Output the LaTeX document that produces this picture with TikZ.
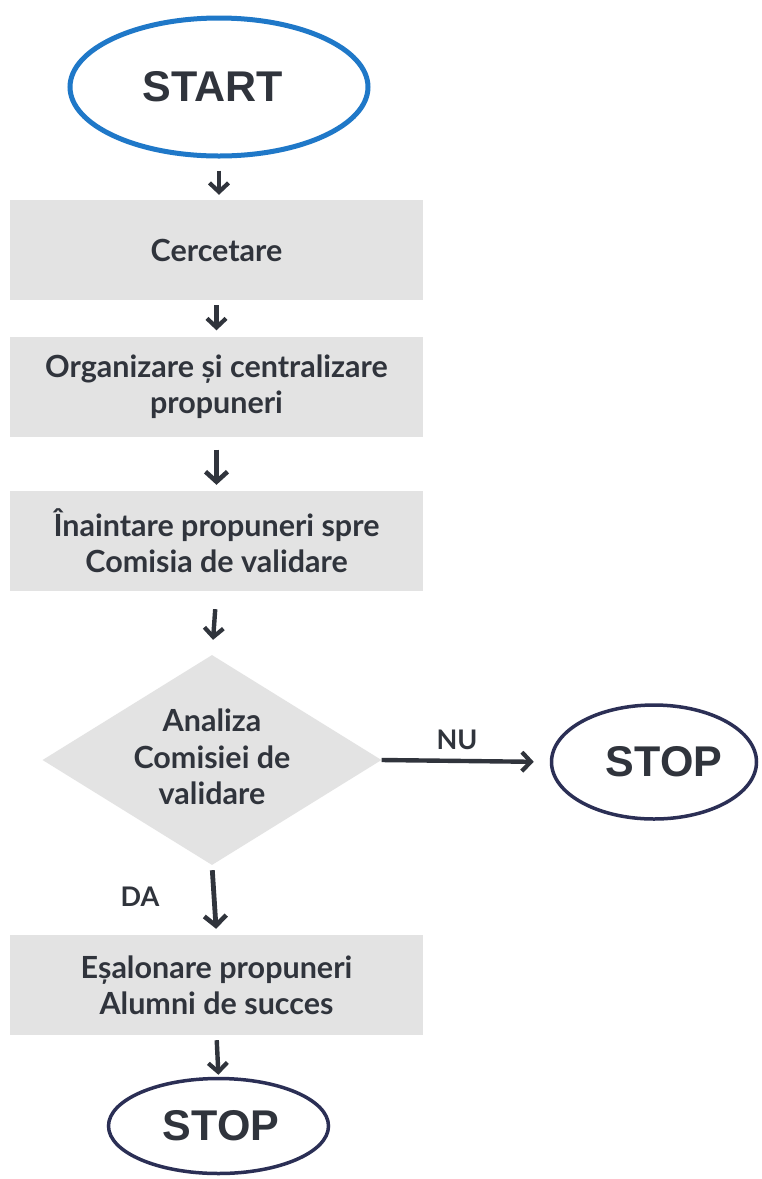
\documentclass[tikz,border=0pt]{standalone}
\usepackage{fontspec}
\setmainfont{Lato}
\newfontfamily\termfont{Liberation Sans}
\usetikzlibrary{shapes.geometric,arrows.meta}
\definecolor{startblue}{HTML}{1F78C8}
\definecolor{stopnavy}{HTML}{2B2F55}
\definecolor{boxgray}{HTML}{E3E3E3}
\definecolor{txtgray}{HTML}{30343C}
\begin{document}
\begin{tikzpicture}[x=1pt,y=-1pt,
  term/.style={ellipse, inner sep=0pt, font=\termfont\bfseries\fontsize{43}{50}\selectfont, text=txtgray},
  stepbox/.style={rectangle, fill=boxgray, minimum width=413pt, minimum height=100pt, inner sep=0pt, align=center, text=txtgray, font=\bfseries\fontsize{30.5}{36}\selectfont},
  boxtext/.style={align=center, text=txtgray, font=\bfseries\fontsize{30.5}{36.5}\selectfont, inner sep=0pt},
  lbl/.style={text=txtgray, font=\bfseries\fontsize{27}{30}\selectfont, inner sep=0pt},
  flow/.style={draw=txtgray, line width=4.4pt, -{Straight Barb[length=9pt,width=19pt,line width=4.2pt]}},
  bigflow/.style={draw=txtgray, line width=4.8pt, -{Straight Barb[length=10pt,width=22pt,line width=4.6pt]}}
]
\useasboundingbox[fill=white] (0,0) rectangle (761,1179);

\node[term, draw=startblue, line width=5pt, minimum width=298pt, minimum height=138pt] (start) at (219,87) {START\hspace*{12pt}};
\node[stepbox] (c1) at (216.5,250) {Cercetare};
\node[stepbox] (c2) at (216.5,386.5) {Organizare și centralizare\\propuneri};
\node[stepbox] (c3) at (216.5,541) {Înaintare propuneri spre\\Comisia de validare};
\node[diamond, fill=boxgray, inner sep=0pt, minimum width=339pt, minimum height=210pt] (d) at (212,760) {};
\node[boxtext] (dtext) at (212,757) {Analiza\\Comisiei de\\validare};
\node[term, draw=stopnavy, line width=3.5pt, minimum width=205pt, minimum height=114pt] (stop1) at (654,762) {\hspace*{20pt}STOP};
\node[stepbox] (c5) at (216.5,985) {Eșalonare propuneri\\Alumni de succes};
\node[term, draw=stopnavy, line width=3.5pt, minimum width=220pt, minimum height=95pt] (stop2) at (218.5,1126) {\hspace*{5pt}STOP};

\node[lbl] (nu) at (457,740) {NU};
\node[lbl] (da) at (140,897) {DA};

\draw[flow, shorten <=12pt, shorten >=5pt] (start.south) -- (start.south |- c1.north);
\draw[flow, shorten <=5pt, shorten >=6pt] (c1.south) -- (c2.north);
\draw[bigflow, shorten <=13pt, shorten >=6pt] (c2.south) -- (c3.north);
\draw[flow, shorten <=18pt, shorten >=15pt] (c3.south) -- (d.north);
\draw[flow, shorten >=16pt] (d.east) -- (stop1.west);
\draw[bigflow, shorten <=5pt, shorten >=6pt] (d.south) -- (c5.north);
\draw[flow, shorten <=5pt, shorten >=2pt] (c5.south) -- (stop2.north);
\end{tikzpicture}
\end{document}
